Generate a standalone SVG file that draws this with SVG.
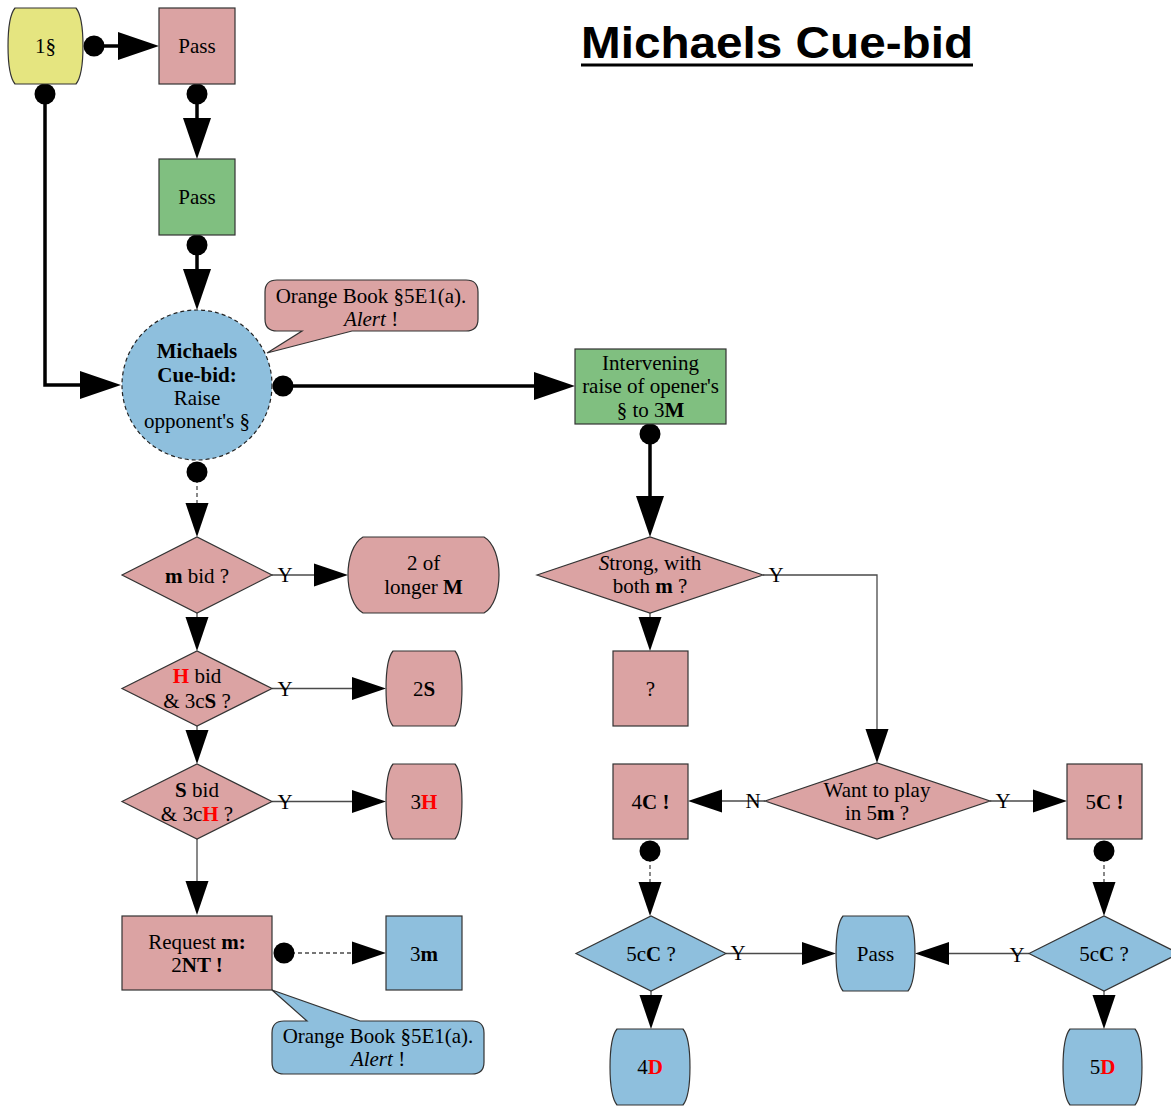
<svg xmlns="http://www.w3.org/2000/svg" width="1171" height="1106" viewBox="0 0 1171 1106">
  <defs>
    <style>
      .pink { fill: #dba3a3; stroke: #333; stroke-width: 1.2; }
      .blue { fill: #8ebfdd; stroke: #333; stroke-width: 1.2; }
      .green { fill: #80bf80; stroke: #333; stroke-width: 1.2; }
      .yellow { fill: #e5e580; stroke: #333; stroke-width: 1.2; }
      .t { font-family: "Liberation Serif", "Times New Roman", serif; font-size: 21px; text-anchor: middle; fill: #000; }
      .b { font-weight: bold; }
      .i { font-style: italic; }
      .red { fill: #ff0000; font-weight: bold; }
      .bold-line { fill: none; stroke: #000; stroke-width: 3.5; }
      .thin-line { fill: none; stroke: #4a4a4a; stroke-width: 1.3; }
      .dash-line { fill: none; stroke: #4a4a4a; stroke-width: 1.3; stroke-dasharray: 4 3; }
      .title { font-family: "Liberation Sans", Arial, sans-serif; font-weight: bold; font-size: 44px; fill: #000; }
    </style>
    <marker id="arrowBig" markerUnits="userSpaceOnUse" markerWidth="50" markerHeight="40" refX="0" refY="0" orient="auto" overflow="visible">
      <path d="M0,-14 L41,0 L0,14 Z" fill="#000"/>
    </marker>
    <marker id="arrowSmall" markerUnits="userSpaceOnUse" markerWidth="40" markerHeight="30" refX="0" refY="0" orient="auto" overflow="visible">
      <path d="M0,-11.5 L34,0 L0,11.5 Z" fill="#000"/>
    </marker>
    <marker id="dot" markerUnits="userSpaceOnUse" markerWidth="24" markerHeight="24" refX="0" refY="0" orient="auto" overflow="visible">
      <circle cx="0" cy="0" r="10.5" fill="#000"/>
    </marker>
  </defs>

  <rect width="1171" height="1106" fill="#fff"/>

  <!-- title -->
  <g id="title">
    <text class="title" x="581" y="58" textLength="392" lengthAdjust="spacingAndGlyphs">Michaels Cue-bid</text>
    <rect x="581" y="63.5" width="392" height="3" fill="#000"/>
  </g>

  <!-- connectors -->
  <g id="connectors">
    <!-- strong (bold) flow -->
    <path class="bold-line" d="M94,46 H118" marker-start="url(#dot)" marker-end="url(#arrowBig)"/>
    <path class="bold-line" d="M197,94 V118" marker-start="url(#dot)" marker-end="url(#arrowBig)"/>
    <path class="bold-line" d="M197,245 V269" marker-start="url(#dot)" marker-end="url(#arrowBig)"/>
    <path class="bold-line" d="M45,94 V385 H80" marker-start="url(#dot)" marker-end="url(#arrowBig)"/>
    <path class="bold-line" d="M283,386 H534" marker-start="url(#dot)" marker-end="url(#arrowBig)"/>
    <path class="bold-line" d="M650,434 V496" marker-start="url(#dot)" marker-end="url(#arrowBig)"/>

    <!-- left column -->
    <path class="dash-line" d="M197,472 V503" marker-start="url(#dot)" marker-end="url(#arrowSmall)"/>
    <path class="thin-line" d="M272,575 H314" marker-end="url(#arrowSmall)"/>
    <path class="thin-line" d="M197,613 V617" marker-end="url(#arrowSmall)"/>
    <path class="thin-line" d="M272,688.5 H352" marker-end="url(#arrowSmall)"/>
    <path class="thin-line" d="M197,726 V730" marker-end="url(#arrowSmall)"/>
    <path class="thin-line" d="M272,801.5 H352" marker-end="url(#arrowSmall)"/>
    <path class="thin-line" d="M197,839 V881" marker-end="url(#arrowSmall)"/>
    <path class="dash-line" d="M284,953 H352" marker-start="url(#dot)" marker-end="url(#arrowSmall)"/>

    <!-- right side -->
    <path class="thin-line" d="M650,613 V617" marker-end="url(#arrowSmall)"/>
    <path class="thin-line" d="M763,575 H877 V729" marker-end="url(#arrowSmall)"/>
    <path class="thin-line" d="M765,801 H722" marker-end="url(#arrowSmall)"/>
    <path class="thin-line" d="M990,801 H1033" marker-end="url(#arrowSmall)"/>
    <path class="dash-line" d="M650,851 V882" marker-start="url(#dot)" marker-end="url(#arrowSmall)"/>
    <path class="dash-line" d="M1104,851 V882" marker-start="url(#dot)" marker-end="url(#arrowSmall)"/>
    <path class="thin-line" d="M726,953.5 H802" marker-end="url(#arrowSmall)"/>
    <path class="thin-line" d="M1029,953.5 H949" marker-end="url(#arrowSmall)"/>
    <path class="thin-line" d="M651,991 V995" marker-end="url(#arrowSmall)"/>
    <path class="thin-line" d="M1104,991 V995" marker-end="url(#arrowSmall)"/>

    <!-- branch labels -->
    <text class="t" x="285" y="582">Y</text>
    <text class="t" x="285" y="696">Y</text>
    <text class="t" x="285" y="809">Y</text>
    <text class="t" x="776" y="582">Y</text>
    <text class="t" x="753" y="808">N</text>
    <text class="t" x="1003" y="808">Y</text>
    <text class="t" x="738" y="960">Y</text>
    <text class="t" x="1017" y="962">Y</text>
  </g>

  <!-- nodes -->
  <g id="n-opening">
    <path class="yellow" d="M15,8 H76 C85.3,19.4 85.3,72.6 76,84 H15 C5.7,72.6 5.7,19.4 15,8 Z"/>
    <text class="t" x="45.5" y="53">1§</text>
  </g>

  <g id="n-pass1">
    <rect class="pink" x="159" y="8" width="76" height="76"/>
    <text class="t" x="197" y="53">Pass</text>
  </g>

  <g id="n-pass2">
    <rect class="green" x="159" y="159" width="76" height="76"/>
    <text class="t" x="197" y="204">Pass</text>
  </g>

  <g id="n-michaels">
    <circle cx="197" cy="385" r="75" fill="#8ebfdd" stroke="#222" stroke-width="1.2" stroke-dasharray="4 3"/>
    <text class="t" x="197" y="358"><tspan class="b">Michaels</tspan></text>
    <text class="t" x="197" y="382"><tspan class="b">Cue-bid:</tspan></text>
    <text class="t" x="197" y="405">Raise</text>
    <text class="t" x="197" y="428">opponent's §</text>
  </g>

  <g id="n-note-top">
    <path class="pink" d="M277,280 H466 Q478,280 478,292 V319 Q478,331 466,331 H352 L267,353 L302,331 H277 Q265,331 265,319 V292 Q265,280 277,280 Z"/>
    <text class="t" x="371" y="303">Orange Book §5E1(a).</text>
    <text class="t" x="371" y="326"><tspan class="i">Alert</tspan> !</text>
  </g>

  <g id="n-intervening">
    <rect class="green" x="575" y="349" width="151" height="75"/>
    <text class="t" x="650.5" y="370">Intervening</text>
    <text class="t" x="650.5" y="393">raise of opener's</text>
    <text class="t" x="650.5" y="417">§ to 3<tspan class="b">M</tspan></text>
  </g>

  <g id="n-mbid">
    <polygon class="pink" points="122,575 197,537 272,575 197,613"/>
    <text class="t" x="197" y="583"><tspan class="b">m</tspan> bid ?</text>
  </g>

  <g id="n-longer-major">
    <path class="pink" d="M363,537 H484 C504,548.4 504,601.6 484,613 H363 C343,601.6 343,548.4 363,537 Z"/>
    <text class="t" x="423.5" y="570">2 of</text>
    <text class="t" x="423.5" y="594">longer <tspan class="b">M</tspan></text>
  </g>

  <g id="n-hbid">
    <polygon class="pink" points="122,688.5 197,651 272,688.5 197,726"/>
    <text class="t" x="197" y="683"><tspan class="red">H</tspan> bid</text>
    <text class="t" x="197" y="708">&amp; 3c<tspan class="b">S</tspan> ?</text>
  </g>

  <g id="n-2s">
    <path class="pink" d="M393,651 H455 C464.3,662.25 464.3,714.75 455,726 H393 C383.7,714.75 383.7,662.25 393,651 Z"/>
    <text class="t" x="424" y="696">2<tspan class="b">S</tspan></text>
  </g>

  <g id="n-sbid">
    <polygon class="pink" points="122,801.5 197,764 272,801.5 197,839"/>
    <text class="t" x="197" y="797"><tspan class="b">S</tspan> bid</text>
    <text class="t" x="197" y="821">&amp; 3c<tspan class="red">H</tspan> ?</text>
  </g>

  <g id="n-3h">
    <path class="pink" d="M393,764 H455 C464.3,775.25 464.3,827.75 455,839 H393 C383.7,827.75 383.7,775.25 393,764 Z"/>
    <text class="t" x="424" y="809">3<tspan class="red">H</tspan></text>
  </g>

  <g id="n-request">
    <rect class="pink" x="122" y="916" width="150" height="74"/>
    <text class="t" x="197" y="949">Request <tspan class="b">m:</tspan></text>
    <text class="t" x="197" y="972">2<tspan class="b">NT !</tspan></text>
  </g>

  <g id="n-3m">
    <rect class="blue" x="386" y="916" width="76" height="74"/>
    <text class="t" x="424" y="961">3<tspan class="b">m</tspan></text>
  </g>

  <g id="n-note-bottom">
    <path class="blue" d="M284,1021 H307 L272,990 L360,1021 H472 Q484,1021 484,1033 V1062 Q484,1074 472,1074 H284 Q272,1074 272,1062 V1033 Q272,1021 284,1021 Z"/>
    <text class="t" x="378" y="1043">Orange Book §5E1(a).</text>
    <text class="t" x="378" y="1066"><tspan class="i">Alert</tspan> !</text>
  </g>

  <g id="n-strong">
    <polygon class="pink" points="537,575 650,537 763,575 650,613"/>
    <text class="t" x="650" y="570"><tspan class="i">S</tspan>trong, with</text>
    <text class="t" x="650" y="593">both <tspan class="b">m</tspan> ?</text>
  </g>

  <g id="n-unknown">
    <rect class="pink" x="613" y="651" width="75" height="75"/>
    <text class="t" x="650.5" y="696">?</text>
  </g>

  <g id="n-want">
    <polygon class="pink" points="765,801 877,763 990,801 877,839"/>
    <text class="t" x="877" y="797">Want to play</text>
    <text class="t" x="877" y="820">in 5<tspan class="b">m</tspan> ?</text>
  </g>

  <g id="n-4c">
    <rect class="pink" x="613" y="764" width="75" height="75"/>
    <text class="t" x="650.5" y="809">4<tspan class="b">C !</tspan></text>
  </g>

  <g id="n-5c">
    <rect class="pink" x="1067" y="764" width="75" height="75"/>
    <text class="t" x="1104.5" y="809">5<tspan class="b">C !</tspan></text>
  </g>

  <g id="n-5cc-left">
    <polygon class="blue" points="576,953.5 651,916 726,953.5 651,991"/>
    <text class="t" x="651" y="961">5c<tspan class="b">C</tspan> ?</text>
  </g>

  <g id="n-pass3">
    <path class="blue" d="M843,916 H908 C917.3,927.25 917.3,979.75 908,991 H843 C833.7,979.75 833.7,927.25 843,916 Z"/>
    <text class="t" x="875.5" y="961">Pass</text>
  </g>

  <g id="n-5cc-right">
    <polygon class="blue" points="1029,953.5 1104,916 1179,953.5 1104,991"/>
    <text class="t" x="1104" y="961">5c<tspan class="b">C</tspan> ?</text>
  </g>

  <g id="n-4d">
    <path class="blue" d="M617,1029 H683 C692.3,1040.4 692.3,1093.6 683,1105 H617 C607.7,1093.6 607.7,1040.4 617,1029 Z"/>
    <text class="t" x="650" y="1074">4<tspan class="red">D</tspan></text>
  </g>

  <g id="n-5d">
    <path class="blue" d="M1070,1029 H1135 C1144.3,1040.4 1144.3,1093.6 1135,1105 H1070 C1060.7,1093.6 1060.7,1040.4 1070,1029 Z"/>
    <text class="t" x="1102.5" y="1074">5<tspan class="red">D</tspan></text>
  </g>
</svg>
